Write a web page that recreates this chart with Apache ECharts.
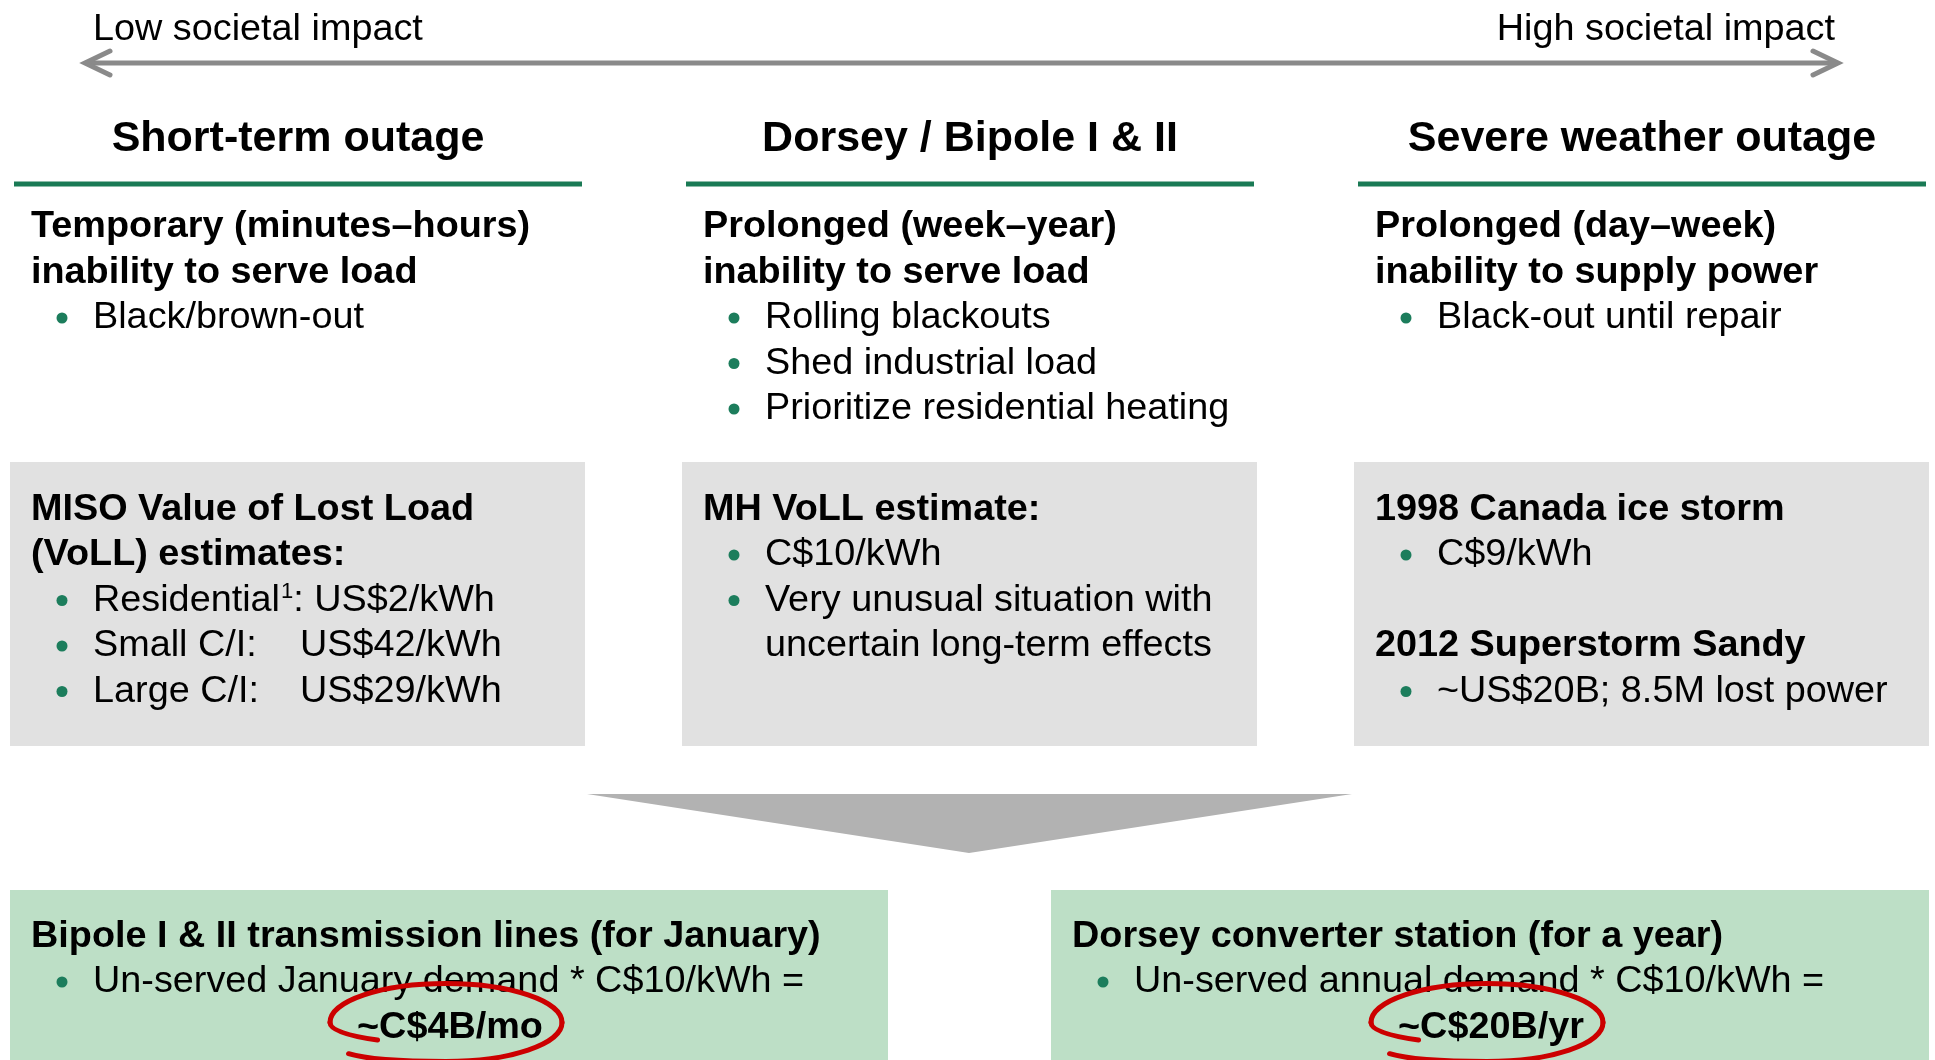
<!DOCTYPE html>
<html>
<head>
<meta charset="utf-8">
<script src="https://cdn.jsdelivr.net/npm/echarts@6/dist/echarts.min.js"></script>
<style>
  html, body { margin: 0; padding: 0; background: #fff; }
  #main { width: 1935px; height: 1060px; }
</style>
</head>
<body>
<div id="main"></div>
<script>
// slide text
var impactLabels = ['Low societal impact', 'High societal impact'];
var columnHeads = ['Short-term outage', 'Dorsey / Bipole I & II', 'Severe weather outage'];
var columnLeads = [
    ['Temporary (minutes\u2013hours)', 'inability to serve load'],
    ['Prolonged (week\u2013year)', 'inability to serve load'],
    ['Prolonged (day\u2013week)', 'inability to supply power']
];
var columnBullets = [
    ['Black/brown-out'],
    ['Rolling blackouts', 'Shed industrial load', 'Prioritize residential heating'],
    ['Black-out until repair']
];
var misoTitle = ['MISO Value of Lost Load', '(VoLL) estimates:'];
var misoSegments = ['Residential', 'Small C/I:', 'Large C/I:'];
var misoValues = ['US$2/kWh', 'US$42/kWh', 'US$29/kWh'];
var mhTitle = ['MH VoLL estimate:'];
var mhBullets = [['C$10/kWh'], ['Very unusual situation with', 'uncertain long-term effects']];
var stormEvents = ['1998 Canada ice storm', '2012 Superstorm Sandy'];
var stormFacts = ['C$9/kWh', '~US$20B; 8.5M lost power'];
var costTitles = ['Bipole I & II transmission lines (for January)', 'Dorsey converter station (for a year)'];
var costFormulas = ['Un-served January demand * C$10/kWh =', 'Un-served annual demand * C$10/kWh ='];
var costResults = ['~C$4B/mo', '~C$20B/yr'];

var FACE = '"Liberation Sans", Arial, sans-serif';
var GREEN = '#1a7a55';
var DOT = '#1c7d5c';
var BODY = 37.8;
var ctx = document.createElement('canvas').getContext('2d');

function font(size, bold) {
    return (bold ? 'bold ' : '') + size + 'px ' + FACE;
}
function measure(s, size, bold) {
    ctx.font = font(size, bold);
    return ctx.measureText(s).width;
}

var els = [];
function txt(s, x, y, size, bold, align) {
    els.push({
        type: 'text', x: x, y: y, silent: true,
        style: {
            text: s, font: font(size, bold), fill: '#000',
            textAlign: align || 'left', textVerticalAlign: 'middle'
        }
    });
}
function dot(x, y) {
    els.push({ type: 'circle', shape: { cx: x, cy: y, r: 5.5 }, style: { fill: DOT }, silent: true });
}
function box(x, y, w, h, color) {
    els.push({ type: 'rect', shape: { x: x, y: y, width: w, height: h }, style: { fill: color }, silent: true });
}
function bullet(left, y, s) {
    dot(left + 52, y);
    txt(s, left + 83, y, BODY, false);
}

// impact arrow
var arrowY = 63;
els.push({ type: 'line', shape: { x1: 87, y1: arrowY, x2: 1834, y2: arrowY },
    style: { stroke: '#8a8a8a', lineWidth: 5 }, silent: true });
[[110, 85], [1813, 1838]].forEach(function (p) {
    els.push({ type: 'polyline', shape: { points: [[p[0], arrowY - 12], [p[1], arrowY], [p[0], arrowY + 12]] },
        style: { stroke: '#8a8a8a', lineWidth: 5, lineCap: 'round', fill: null }, silent: true });
});
txt(impactLabels[0], 93, 30, BODY, false, 'left');
txt(impactLabels[1], 1835, 30, BODY, false, 'right');

// three columns
var colLeft = [10, 682, 1354];
var colW = 575;
function leadRow(i) { return 227 + 45.5 * i; }
function boxRow(i) { return 509.5 + 45.5 * i; }

colLeft.forEach(function (left, c) {
    txt(columnHeads[c], left + 288, 139, 43, true, 'center');
    box(left + 4, 181.5, colW - 7, 5, GREEN);
    columnLeads[c].forEach(function (s, i) {
        txt(s, left + 21, leadRow(i), BODY, true);
    });
    columnBullets[c].forEach(function (s, i) {
        bullet(left, leadRow(columnLeads[c].length + i), s);
    });
    box(left, 462, colW, 284, '#e1e1e1');
});

// MISO box
var l0 = colLeft[0];
misoTitle.forEach(function (s, i) { txt(s, l0 + 21, boxRow(i), BODY, true); });
misoSegments.forEach(function (s, i) {
    var y = boxRow(misoTitle.length + i);
    bullet(l0, y, s);
    if (i === 0) {
        var x1 = l0 + 83 + measure(s, BODY, false) + 1;
        txt('1', x1, y - 9, 22, false);
        txt(': ' + misoValues[i], x1 + measure('1', 22, false), y, BODY, false);
    } else {
        txt(misoValues[i], l0 + 290, y, BODY, false);
    }
});

// MH box
var l1 = colLeft[1];
mhTitle.forEach(function (s, i) { txt(s, l1 + 21, boxRow(i), BODY, true); });
var r = mhTitle.length;
mhBullets.forEach(function (lines) {
    lines.forEach(function (s, j) {
        if (j === 0) bullet(l1, boxRow(r), s);
        else txt(s, l1 + 83, boxRow(r), BODY, false);
        r++;
    });
});

// storms box
var l2 = colLeft[2];
stormEvents.forEach(function (s, i) {
    txt(s, l2 + 21, boxRow(i * 3), BODY, true);
    bullet(l2, boxRow(i * 3 + 1), stormFacts[i]);
});

// funnel
els.push({ type: 'polygon', shape: { points: [[587, 794], [1352, 794], [969, 853]] },
    style: { fill: '#b2b2b2' }, silent: true });

// cost boxes
var costLeft = [10, 1051];
function costRow(i) { return 936.5 + 45.5 * i; }
function scribble(cx, cy, rx, ry) {
    var k = 0.5523;
    var segs = [
        [[-0.59, 0.45], [-0.8, 0.36], [-1, 0.22], [-1, 0]],
        [[-1, 0], [-1, -k], [-k, -1], [0, -1]],
        [[0, -1], [k, -1], [1, -k], [1, 0]],
        [[1, 0], [1, k], [k, 1], [0, 1]],
        [[0, 1], [-0.4, 1], [-0.7, 0.93], [-0.84, 0.8]]
    ];
    segs.forEach(function (sg) {
        els.push({
            type: 'bezierCurve', silent: true,
            shape: {
                x1: cx + sg[0][0] * rx, y1: cy + sg[0][1] * ry,
                cpx1: cx + sg[1][0] * rx, cpy1: cy + sg[1][1] * ry,
                cpx2: cx + sg[2][0] * rx, cpy2: cy + sg[2][1] * ry,
                x2: cx + sg[3][0] * rx, y2: cy + sg[3][1] * ry
            },
            style: { stroke: '#cc0000', lineWidth: 5, lineCap: 'round', fill: null }
        });
    });
}
costLeft.forEach(function (left, i) {
    box(left, 890, 878, 170, '#bddfc6');
    txt(costTitles[i], left + 21, costRow(0), BODY, true);
    bullet(left, costRow(1), costFormulas[i]);
    var cx = left + 440;
    txt(costResults[i], cx, costRow(2), BODY, true, 'center');
    scribble(cx - 4, costRow(2) - 5, 116, 39);
});

var chart = echarts.init(document.getElementById('main'), null, { renderer: 'canvas' });
chart.setOption({
    backgroundColor: '#ffffff',
    animation: false,
    graphic: { elements: els }
});
</script>
</body>
</html>
